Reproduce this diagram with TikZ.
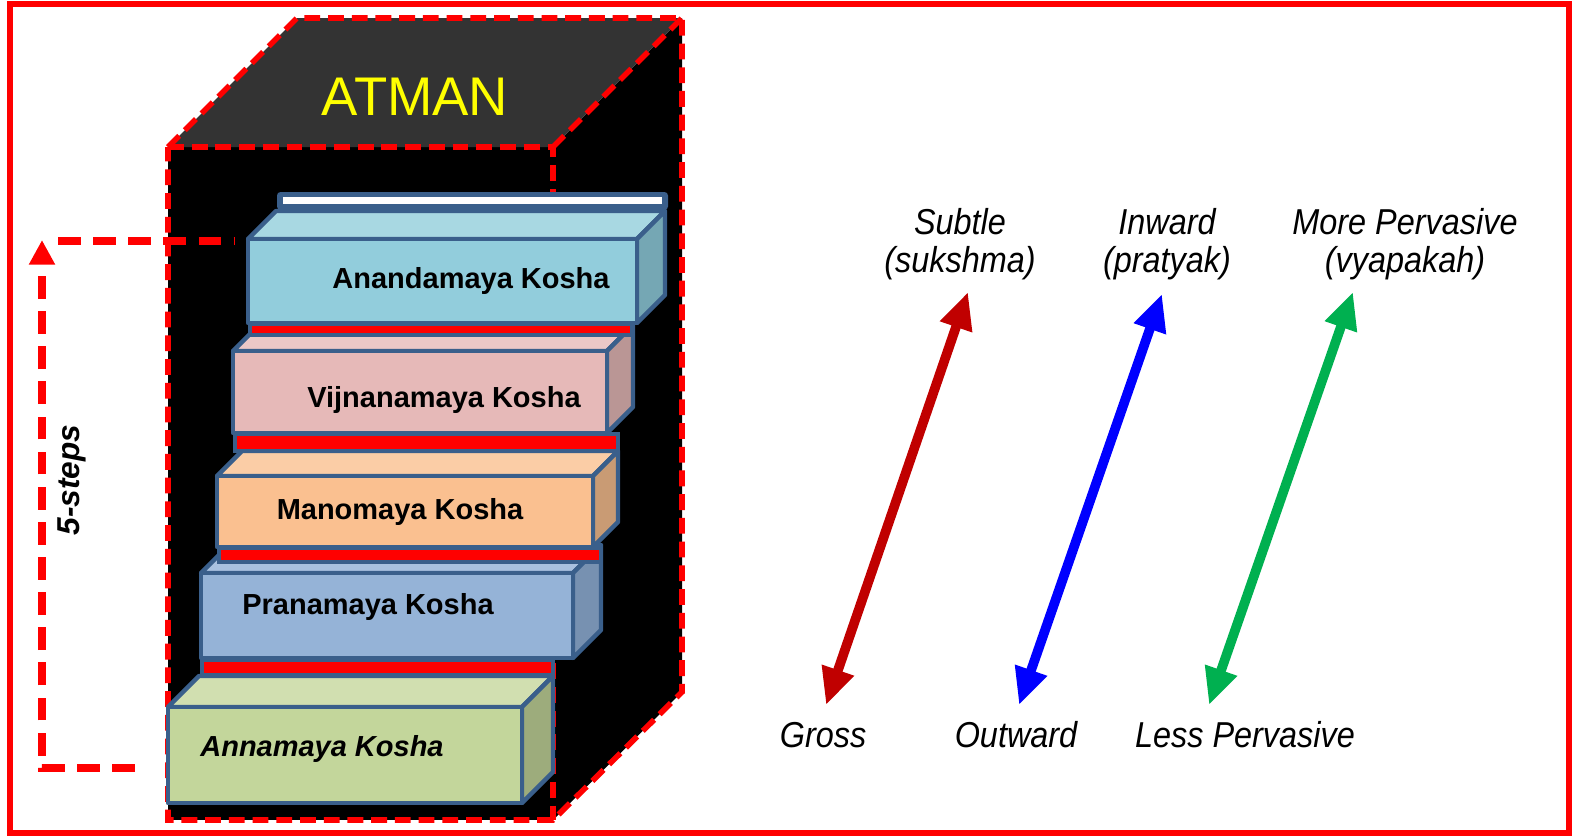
\documentclass[tikz,border=0pt]{standalone}
\usepackage{fontspec}
\setmainfont{Liberation Sans}
\newfontfamily\narrowsans[FakeStretch=0.9]{Liberation Sans}
\usetikzlibrary{arrows.meta}
\definecolor{frameRed}{HTML}{FF0000}
\definecolor{koshaEdge}{HTML}{3A5F8B}
\definecolor{atmanTop}{HTML}{333333}
\definecolor{atmanText}{HTML}{FFFF00}
\definecolor{subtleRed}{HTML}{C00000}
\definecolor{inwardBlue}{HTML}{0000FF}
\definecolor{pervGreen}{HTML}{00B050}

\begin{document}
\begin{tikzpicture}[x=0.02cm, y=-0.02cm,
    redline/.style={draw=frameRed, line width=3.2pt, dash pattern=on 9pt off 4.5pt},
    stepline/.style={draw=frameRed, line width=4.3pt, dash pattern=on 13pt off 7pt},
    koshaline/.style={draw=koshaEdge, line width=2.5pt, line join=round},
    barline/.style={draw=koshaEdge, line width=2.5pt, fill=frameRed},
    kosha/.style={font=\bfseries\fontsize{16.5}{19}\selectfont},
    pole/.style={font=\narrowsans\itshape\fontsize{20.5}{21.5}\selectfont, align=center},
    polearrow/.style={line width=5.5pt, {Triangle[length=21pt,width=18pt]}-{Triangle[length=21pt,width=18pt]}}]
    \useasboundingbox (0,0) rectangle (1575,836);

    % Frame
    \draw[frameRed, line width=3.4pt] (10,4) rectangle (1569,833);

    % Atman cube
    \fill[black] (168,147) rectangle (553,820);
    \fill[black] (553,147) -- (682,18) -- (682,692) -- (553,820) -- cycle;
    \fill[atmanTop] (168,147) -- (297,18) -- (682,18) -- (553,147) -- cycle;
    \draw[redline] (168,147) -- (297,18) -- (682,18) -- (682,692) -- (553,820) -- (168,820) -- cycle;
    \draw[redline] (168,147) -- (553,147) -- (553,820);
    \draw[redline] (553,147) -- (682,18);
    \node[text=atmanText, font=\fontsize{31}{34}\selectfont] (atman) at (415,97) {ATMAN};

    % Koshas
    \foreach \xl/\xr/\yt/\yb/\dep/\cfront/\ctop/\cside in {
        168/522/707/803/31/C3D69B/D1DFB0/9DAC7C,
        201/573/573/658/28/95B3D7/A9C1E0/7791B1,
        217/593/476/547/25/FAC090/FBCDA6/C99B74,
        233/607/351/433/26/E6B9B8/EBC8C7/BA9695,
        248/637/239/323/28/92CDDC/A8D8E2/75A7B4} {
        \definecolor{kfront}{HTML}{\cfront}
        \definecolor{ktop}{HTML}{\ctop}
        \definecolor{kside}{HTML}{\cside}
        \draw[koshaline, fill=ktop] (\xl,\yt) -- (\xl+\dep,\yt-\dep) -- (\xr+\dep,\yt-\dep) -- (\xr,\yt) -- cycle;
        \draw[koshaline, fill=kside] (\xr,\yt) -- (\xr+\dep,\yt-\dep) -- (\xr+\dep,\yb-\dep) -- (\xr,\yb) -- cycle;
        \draw[koshaline, fill=kfront] (\xl,\yt) rectangle (\xr,\yb);
    }
    \foreach \xl/\xr/\yt/\yb in {202/553/660/675, 219/601/548/562, 235/618/434/451, 250/632/324/335}
        \draw[barline] (\xl,\yt) rectangle (\xr,\yb);
    \fill[koshaEdge, rounded corners=2pt] (277,192) rectangle (668,210);
    \fill[white] (283,197) rectangle (662,204);

    \node[kosha] (ananda) at (471,281) {Anandamaya Kosha};
    \node[kosha] (vijnana) at (444,400) {Vijnanamaya Kosha};
    \node[kosha] (mano) at (400,512) {Manomaya Kosha};
    \node[kosha] (prana) at (368,607) {Pranamaya Kosha};
    \node[kosha, font=\bfseries\itshape\fontsize{16.5}{19}\selectfont] (anna) at (322,749) {Annamaya Kosha};

    % 5-steps
    \coordinate (stepsBottom) at (135,768);
    \coordinate (stepsTop) at (42,240);
    \coordinate (reachLeft) at (58,241);
    \coordinate (reachRight) at (235,241);
    \draw[stepline, -{Triangle[length=14pt,width=14pt]}] (stepsBottom) -| (stepsTop);
    \draw[stepline] (reachLeft) -- (reachRight);
    \node[rotate=90, font=\bfseries\itshape\fontsize{18}{20}\selectfont] (steps) at (72,480) {5-steps};

    % Poles
    \node[pole] (subtle) at (960,244) {Subtle\\(sukshma)};
    \node[pole] (inward) at (1167,244) {Inward\\(pratyak)};
    \node[pole] (morepv) at (1405,244) {More Pervasive\\(vyapakah)};
    \node[pole] (gross) at (823,735) {Gross};
    \node[pole] (outward) at (1016,735) {Outward};
    \node[pole] (lesspv) at (1245,735) {Less Pervasive};

    \coordinate (grossTip) at (826,705);
    \coordinate (subtleTip) at (968,292);
    \coordinate (outwardTip) at (1019,705);
    \coordinate (inwardTip) at (1162,294);
    \coordinate (lessTip) at (1209,705);
    \coordinate (moreTip) at (1353,292);
    \draw[polearrow, subtleRed] (grossTip) -- (subtleTip);
    \draw[polearrow, inwardBlue] (outwardTip) -- (inwardTip);
    \draw[polearrow, pervGreen] (lessTip) -- (moreTip);
\end{tikzpicture}
\end{document}
